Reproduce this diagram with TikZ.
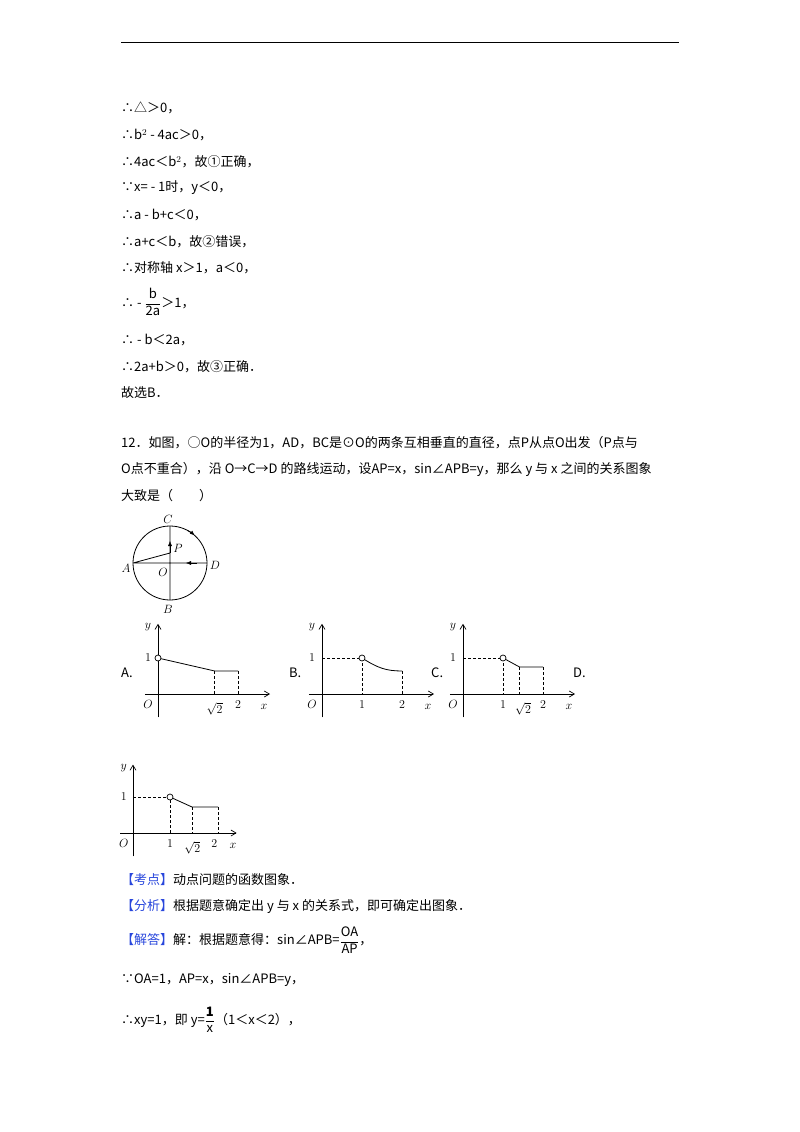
\documentclass[tikz,border=0pt]{standalone}
\usepackage{fontspec}
\usepackage{amsmath}
\setmainfont{Noto Sans CJK SC}
\usetikzlibrary{arrows.meta}
\definecolor{kblue}{RGB}{40,70,220}
\tikzset{
  txt/.style={anchor=west,inner sep=0pt,font=\fontsize{13}{15}\selectfont},
  lbl/.style={inner sep=0pt,font=\fontsize{13}{15}\selectfont},
  axis/.style={line width=0.7pt,-{Straight Barb[length=5pt,width=6pt]}},
  dsh/.style={densely dashed,line width=0.6pt},
  crv/.style={line width=0.8pt},
  hole/.style={circle,draw,fill=white,inner sep=0pt,minimum size=6pt,line width=0.7pt}
}
\newcommand\axesA{%
  \draw[axis] (-0.33,0) -- (2.8,0);
  \draw[axis] (0,-0.65) -- (0,1.95);
  \node[lbl] at (-0.25,1.85) {$y$};
  \node[lbl] at (2.65,-0.35) {$x$};
  \node[lbl] at (-0.25,-0.3) {$O$};
  \node[lbl] at (-0.25,1) {$1$};
}
\begin{document}
\begin{tikzpicture}[x=1pt,y=-1pt]
\useasboundingbox (0,0) rectangle (800,1132);
\draw[line width=0.8pt] (121,42) -- (679,42);
\node[txt] (l1) at (121,108) {∴△＞0，};
\node[txt] (l2) at (121,135) {∴b$^{2}$ - 4ac＞0，};
\node[txt] (l3) at (121,162) {∴4ac＜b$^{2}$，故①正确，};
\node[txt] (l4) at (121,188) {∵x= - 1时，y＜0，};
\node[txt] (l5) at (121,215) {∴a - b+c＜0，};
\node[txt] (l6) at (121,242) {∴a+c＜b，故②错误，};
\node[txt] (l7) at (121,268) {∴对称轴 x＞1，a＜0，};
\node[txt] (l8) at (121,302) {∴ - $\dfrac{\text{b}}{\text{2a}}$＞1，};
\node[txt] (l9) at (121,340) {∴ - b＜2a，};
\node[txt] (l10) at (121,367) {∴2a+b＞0，故③正确．};
\node[txt] (l11) at (121,393) {故选B．};
\node[txt] (q1) at (121,443) {12．如图，○O的半径为1，AD，BC是⊙O的两条互相垂直的直径，点P从点O出发（P点与};
\node[txt] (q2) at (121,469) {O点不重合），沿 O→C→D 的路线运动，设AP=x，sin∠APB=y，那么 y 与 x 之间的关系图象};
\node[txt] (q3) at (121,496) {大致是（　　）};
% circle figure
\coordinate (O) at (170,563);
\coordinate (A) at (133,563);
\coordinate (D) at (207,563);
\coordinate (C) at (170,526);
\coordinate (B) at (170,600);
\coordinate (P) at (170,553);
\draw[line width=0.8pt] (O) circle (37);
\draw[line width=0.8pt] (A) -- (D) (C) -- (B) (A) -- (P);
\draw[-{Latex[length=5pt,width=4pt]}] (170,553) -- (170,541);
\draw[-{Latex[length=5pt,width=4pt]}] (197,563) -- (186,563);
\draw[-{Latex[length=5pt,width=4pt]},line width=0.8pt] (O) ++(-62:37) arc (-62:-48:37);
\node[lbl] at (168,519) {$C$};
\node[lbl] at (168,609) {$B$};
\node[lbl] at (126,568) {$A$};
\node[lbl] at (215,565) {$D$};
\node[lbl] at (163,572) {$O$};
\node[lbl] at (178,548) {$P$};
% option labels
\node[txt] at (121,673) {A.};
\node[txt] at (289,673) {B.};
\node[txt] at (431,673) {C.};
\node[txt] at (573,673) {D.};
% graph A
\begin{scope}[shift={(158,694)},x=40pt,y=36pt]
\axesA
\draw[crv] (0,1) -- (1.414,0.64) -- (2,0.64);
\draw[dsh] (1.414,0.64) -- (1.414,0) (2,0.64) -- (2,0);
\node[hole] at (0,1) {};
\node[lbl] at (1.414,-0.42) {$\sqrt{2}$};
\node[lbl] at (2,-0.3) {$2$};
\end{scope}
% graph B
\begin{scope}[shift={(322,694)},x=40pt,y=36pt]
\axesA
\draw[dsh] (0,1) -- (1,1) -- (1,0) (2,0.64) -- (2,0);
\draw[crv] (1,1) .. controls (1.4,0.72) and (1.6,0.64) .. (2,0.64);
\node[hole] at (1,1) {};
\node[lbl] at (1,-0.3) {$1$};
\node[lbl] at (2,-0.3) {$2$};
\end{scope}
% graph C
\begin{scope}[shift={(463,694)},x=40pt,y=36pt]
\axesA
\draw[dsh] (0,1) -- (1,1) -- (1,0) (1.414,0.75) -- (1.414,0) (2,0.75) -- (2,0);
\draw[crv] (1,1) .. controls (1.2,0.85) .. (1.414,0.75) -- (2,0.75);
\node[hole] at (1,1) {};
\node[lbl] at (1,-0.3) {$1$};
\node[lbl] at (1.5,-0.42) {$\sqrt{2}$};
\node[lbl] at (2,-0.3) {$2$};
\end{scope}
% graph D
\begin{scope}[shift={(133,833)},x=37pt,y=36pt]
\draw[axis] (-0.35,0) -- (2.8,0);
\draw[axis] (0,-0.65) -- (0,1.9);
\node[lbl] at (-0.25,1.8) {$y$};
\node[lbl] at (2.7,-0.35) {$x$};
\node[lbl] at (-0.25,-0.3) {$O$};
\node[lbl] at (-0.25,1) {$1$};
\draw[dsh] (0,1) -- (1,1) -- (1,0) (1.6,0.72) -- (1.6,0) (2.3,0.72) -- (2.3,0);
\draw[crv] (1,1) -- (1.6,0.72) -- (2.3,0.72);
\node[hole] at (1,1) {};
\node[lbl] at (1,-0.3) {$1$};
\node[lbl] at (1.6,-0.42) {$\sqrt{2}$};
\node[lbl] at (2.2,-0.3) {$2$};
\end{scope}
% solution
\node[txt] (s1) at (121,880) {\textcolor{kblue}{【考点】}动点问题的函数图象．};
\node[txt] (s2) at (121,906) {\textcolor{kblue}{【分析】}根据题意确定出 y 与 x 的关系式，即可确定出图象．};
\node[txt] (s3) at (121,940) {\textcolor{kblue}{【解答】}解：根据题意得：sin∠APB=$\dfrac{\text{OA}}{\text{AP}}$，};
\node[txt] (s4) at (121,980) {∵OA=1，AP=x，sin∠APB=y，};
\node[txt] (s5) at (121,1020) {∴xy=1，即 y=$\dfrac{\textbf{1}}{\text{x}}$（1＜x＜2），};
\end{tikzpicture}
\end{document}
